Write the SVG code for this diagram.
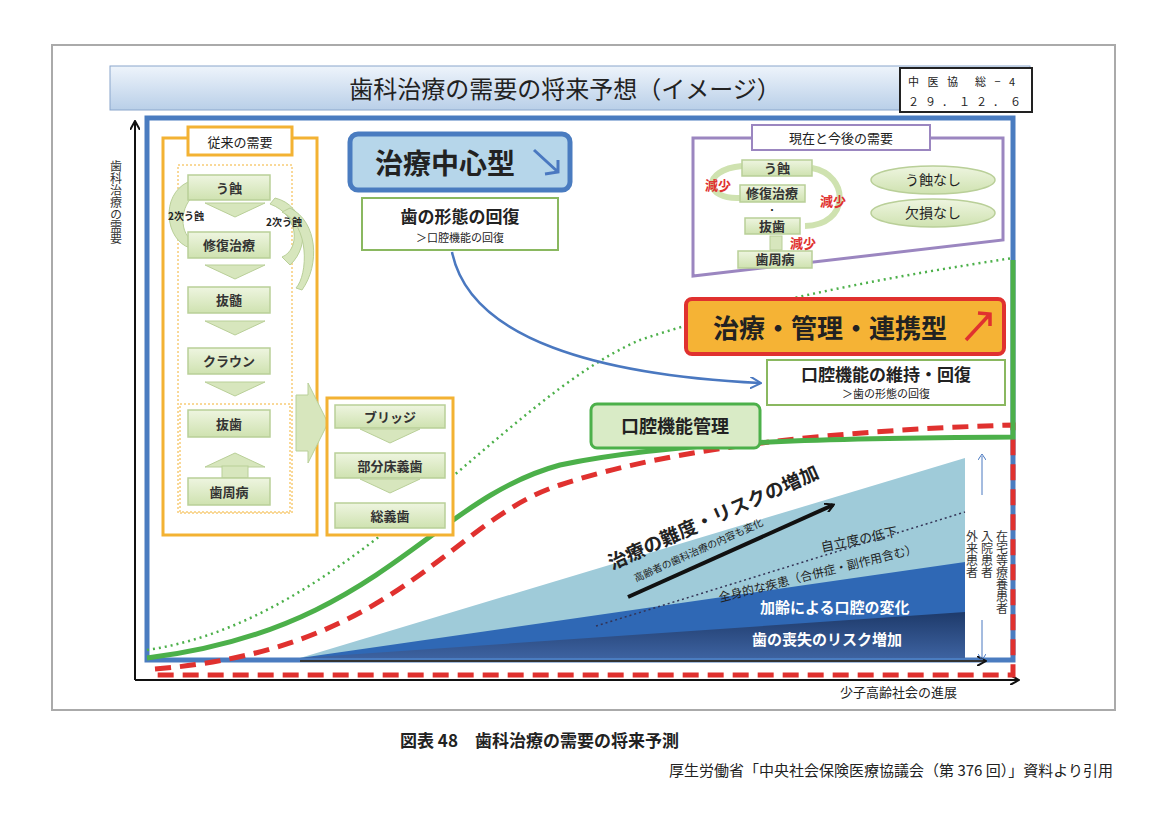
<svg xmlns="http://www.w3.org/2000/svg" width="1170" height="818" viewBox="0 0 1170 818">
<defs>
<style>
text{font-family:"Noto Sans CJK JP","Noto Sans",sans-serif;fill:#222}
.g{fill:url(#gg);stroke:#b9cf98;stroke-width:1.5}
.gt{font-size:13px;font-weight:bold;text-anchor:middle;fill:#333}
.dn{fill:#d7e6bd;stroke:#b9cf98}
.w{fill:#fff;font-weight:bold}
.v{font-size:12px;writing-mode:tb;fill:#333}
</style>
<linearGradient id="gg" x1="0" y1="0" x2="0" y2="1"><stop offset="0" stop-color="#eef5e0"/><stop offset="1" stop-color="#cfe2b0"/></linearGradient>
<linearGradient id="tb" x1="0" y1="0" x2="0" y2="1"><stop offset="0" stop-color="#eef4fb"/><stop offset="1" stop-color="#b9cfe8"/></linearGradient>
<linearGradient id="nv" x1="0" y1="0" x2="0" y2="1"><stop offset="0" stop-color="#1e3a6a"/><stop offset="1" stop-color="#3d62a0"/></linearGradient>
<marker id="ak" markerWidth="10" markerHeight="10" refX="8" refY="5" orient="auto" markerUnits="userSpaceOnUse"><path d="M0,0 L9,5 L0,10" fill="none" stroke="#111" stroke-width="2"/></marker>
<marker id="ab" markerWidth="12" markerHeight="12" refX="10" refY="6" orient="auto" markerUnits="userSpaceOnUse"><path d="M0,0 L11,6 L0,12" fill="none" stroke="#4a78c0" stroke-width="2"/></marker>
<marker id="abs" markerWidth="8" markerHeight="8" refX="4" refY="4" orient="auto" markerUnits="userSpaceOnUse"><path d="M0,0 L6,4 L0,8" fill="none" stroke="#4a78c0" stroke-width="1"/></marker>
</defs>
<rect x="52" y="45" width="1063" height="665" fill="#fff" stroke="#aaa" stroke-width="2"/>
<g id="title"><rect x="110" y="66" width="920" height="44" fill="url(#tb)" stroke="#8aa6cc"/>
<text x="565" y="98" font-size="24" text-anchor="middle" fill="#222">歯科治療の需要の将来予想（イメージ）</text>
<rect x="900" y="68" width="132" height="44" fill="#fff" stroke="#222" stroke-width="2"/>
<text x="908" y="86" font-size="11" letter-spacing="3">中 医 協　総 − 4</text>
<text x="908" y="106" font-size="11" letter-spacing="6">２９．１２．６</text></g>
<g id="connectors">
<line x1="135" y1="680" x2="135" y2="122" stroke="#111" stroke-width="2" marker-end="url(#ak)"/>
<line x1="135" y1="680" x2="1018" y2="680" stroke="#111" stroke-width="2" marker-end="url(#ak)"/>
<rect x="147" y="118" width="866" height="542" fill="none" stroke="#4a7cc0" stroke-width="5"/>
<polygon points="300,658 965,458 965,658" fill="#9fcbd9"/>
<polygon points="300,658 965,562 965,658" fill="#2f68b5"/>
<polygon points="300,658 965,612 965,658" fill="url(#nv)"/>
<line x1="596" y1="626" x2="965" y2="512" stroke="#335" stroke-width="1.5" stroke-dasharray="2,3"/>
<line x1="300" y1="661" x2="985" y2="661" stroke="#333" stroke-width="2" marker-end="url(#ak)"/>
<line x1="982" y1="495" x2="982" y2="456" stroke="#4a78c0" marker-end="url(#abs)"/>
<line x1="982" y1="620" x2="982" y2="658" stroke="#4a78c0" marker-end="url(#abs)"/>
<line x1="628" y1="597" x2="833" y2="505" stroke="#111" stroke-width="4" marker-end="url(#ak)"/>
<path d="M155,669 C400,650 450,520 560,485 C680,445 850,430 1013,425 L1013,675 L155,675 Z" fill="none" stroke="#e0312f" stroke-width="5" stroke-dasharray="16,9"/>
<path d="M147,658 C380,630 430,500 560,465 C680,440 850,438 1013,437 L1013,260" fill="none" stroke="#4cb04a" stroke-width="5"/>
<path d="M147,650 C350,620 500,400 640,340 C760,300 900,275 1013,258" fill="none" stroke="#4cb04a" stroke-width="2.5" stroke-dasharray="2,4"/>
<path d="M452,252 C470,340 600,375 760,383" fill="none" stroke="#4a78c0" stroke-width="2.5" marker-end="url(#ab)"/>
</g>
<text x="116" y="160" class="v" font-size="13" style="writing-mode:tb">歯科治療の需要</text>
<text x="840" y="697" font-size="13">少子高齢社会の進展</text>
<g id="old">
<rect x="163" y="138" width="154" height="397" fill="#fff" stroke="#f3b233" stroke-width="3"/>
<rect x="188" y="127" width="104" height="28" fill="#fff" stroke="#f3b233" stroke-width="3"/>
<text x="240" y="147" font-size="13" text-anchor="middle">従来の需要</text>
<rect x="178" y="165" width="114" height="348" fill="none" stroke="#f3b233" stroke-dasharray="2,2"/>
<path d="M205,203 h60 l-30,14 z M205,265 h60 l-30,14 z M205,321 h60 l-30,14 z M205,382 h60 l-30,14 z" class="dn"/>
<path d="M205,467 h60 l-30,-14 z" class="dn"/><rect x="222" y="466" width="26" height="12" class="dn"/>
<path d="M188,182 C160,195 165,240 190,248 L192,240 C178,232 180,200 200,192 Z" class="dn"/>
<path d="M270,204 C300,215 300,250 282,257 L290,265 C312,245 305,205 275,198 Z" class="dn"/>
<path d="M282,212 C310,225 308,275 296,288 L302,290 C320,265 318,222 290,208 Z" class="dn"/>
<rect x="188" y="175" width="82" height="25" class="g"/><text x="229" y="193" class="gt">う蝕</text>
<rect x="188" y="232" width="82" height="26" class="g"/><text x="229" y="250" class="gt">修復治療</text>
<rect x="188" y="287" width="82" height="26" class="g"/><text x="229" y="305" class="gt">抜髄</text>
<rect x="188" y="348" width="82" height="26" class="g"/><text x="229" y="366" class="gt">クラウン</text>
<rect x="188" y="410" width="82" height="27" class="g" stroke="#8db35a" stroke-width="2.5"/><text x="229" y="429" class="gt">抜歯</text>
<rect x="188" y="478" width="82" height="27" class="g"/><text x="229" y="497" class="gt">歯周病</text>
<text x="168" y="220" font-size="10" font-weight="bold">2次う蝕</text>
<text x="266" y="226" font-size="10" font-weight="bold">2次う蝕</text>
<rect x="180" y="404" width="110" height="108" fill="none" stroke="#f3b233" stroke-dasharray="2,2"/>
</g>
<g id="prosth">
<path d="M296,395 h12 v-12 l20,40 l-20,40 v-12 h-12 z" class="dn"/>
<rect x="327" y="398" width="126" height="137" fill="#fff" stroke="#f3b233" stroke-width="3"/>
<path d="M360,429 h60 l-30,14 z M360,479 h60 l-30,14 z" class="dn"/>
<rect x="335" y="405" width="110" height="23" class="g"/><text x="390" y="422" class="gt">ブリッジ</text>
<rect x="335" y="453" width="110" height="25" class="g"/><text x="390" y="471" class="gt">部分床義歯</text>
<rect x="335" y="503" width="110" height="25" class="g"/><text x="390" y="521" class="gt">総義歯</text>
</g>
<g id="treat">
<rect x="350" y="134" width="220" height="56" rx="8" fill="#b6d6ea" stroke="#4a7cc0" stroke-width="5"/>
<text x="445" y="174" font-size="28" font-weight="bold" text-anchor="middle">治療中心型</text>
<path d="M534,150 L558,172 M545,174 L558,172 L558,160" fill="none" stroke="#4a78c0" stroke-width="3"/>
<rect x="362" y="198" width="196" height="52" fill="#fff" stroke="#8ab860" stroke-width="2"/>
<text x="460" y="223" font-size="17" font-weight="bold" text-anchor="middle">歯の形態の回復</text>
<text x="460" y="242" font-size="11" text-anchor="middle">＞口腔機能の回復</text>
</g>
<g id="now">
<polygon points="693,138 1003,138 1003,240 693,276" fill="#fff" stroke="#9b86c0" stroke-width="3"/>
<rect x="752" y="125" width="178" height="25" fill="#fff" stroke="#9b86c0" stroke-width="2"/>
<text x="841" y="143" font-size="13" text-anchor="middle">現在と今後の需要</text>
<path d="M742,166 C700,170 705,200 740,198 M812,168 C850,175 850,225 805,226" fill="none" stroke="#cfe2b0" stroke-width="6"/>
<rect x="770" y="236" width="12" height="14" class="dn"/>
<rect x="742" y="160" width="70" height="16" class="g"/><text x="777" y="173" class="gt" font-size="12">う蝕</text>
<rect x="740" y="185" width="65" height="17" class="g"/><text x="772" y="198" class="gt" font-size="12">修復治療</text>
<text x="772" y="214" font-size="10" text-anchor="middle">・</text>
<rect x="745" y="218" width="55" height="16" class="g"/><text x="772" y="231" class="gt" font-size="12">抜歯</text>
<rect x="738" y="251" width="74" height="17" class="g"/><text x="775" y="264" class="gt" font-size="12">歯周病</text>
<text x="705" y="190" font-size="13" font-weight="bold" style="fill:#e0312f">減少</text>
<text x="820" y="206" font-size="13" font-weight="bold" style="fill:#e0312f">減少</text>
<text x="790" y="248" font-size="13" font-weight="bold" style="fill:#e0312f">減少</text>
<ellipse cx="933" cy="180" rx="62" ry="14" class="g"/><text x="933" y="185" font-size="14" text-anchor="middle">う蝕なし</text>
<ellipse cx="933" cy="213" rx="62" ry="14" class="g"/><text x="933" y="218" font-size="14" text-anchor="middle">欠損なし</text>
</g>
<g id="manage">
<rect x="686" y="299" width="318" height="55" rx="6" fill="#f5b335" stroke="#e0312f" stroke-width="4"/>
<text x="830" y="338" font-size="26" font-weight="bold" text-anchor="middle">治療・管理・連携型</text>
<path d="M966,340 L990,314 M978,313 L990,314 L990,326" fill="none" stroke="#e0312f" stroke-width="3.5"/>
<rect x="767" y="360" width="238" height="45" fill="#fff" stroke="#8ab860" stroke-width="2"/>
<text x="886" y="381" font-size="17" font-weight="bold" text-anchor="middle">口腔機能の維持・回復</text>
<text x="886" y="398" font-size="11" text-anchor="middle">＞歯の形態の回復</text>
<rect x="591" y="404" width="169" height="44" rx="6" fill="#d9ebc6" stroke="#4cb04a" stroke-width="3"/>
<text x="675" y="433" font-size="18" font-weight="bold" text-anchor="middle">口腔機能管理</text>
</g>
<g id="risk">
<text transform="translate(612,570) rotate(-24)" font-size="19" font-weight="bold">治療の難度・リスクの増加</text>
<text transform="translate(636,582) rotate(-24)" font-size="10">高齢者の歯科治療の内容も変化</text>
<text transform="translate(822,552) rotate(-12)" font-size="13">自立度の低下</text>
<text transform="translate(720,602) rotate(-14)" font-size="12">全身的な疾患（合併症・副作用含む）</text>
<text x="760" y="613" font-size="15" class="w" style="fill:#fff">加齢による口腔の変化</text>
<text x="752" y="645" font-size="15" class="w" style="fill:#fff">歯の喪失のリスク増加</text>
<text x="972" y="530" class="v" font-size="11">外来患者</text>
<text x="987" y="530" class="v" font-size="11">入院患者</text>
<text x="1002" y="530" class="v" font-size="11">在宅等療養患者</text>
</g>
<text x="400" y="747" font-size="17" font-weight="bold" fill="#333">図表 48　歯科治療の需要の将来予測</text>
<text x="1113" y="776" font-size="15" text-anchor="end" fill="#444">厚生労働省「中央社会保険医療協議会（第 376 回）」資料より引用</text>
</svg>
